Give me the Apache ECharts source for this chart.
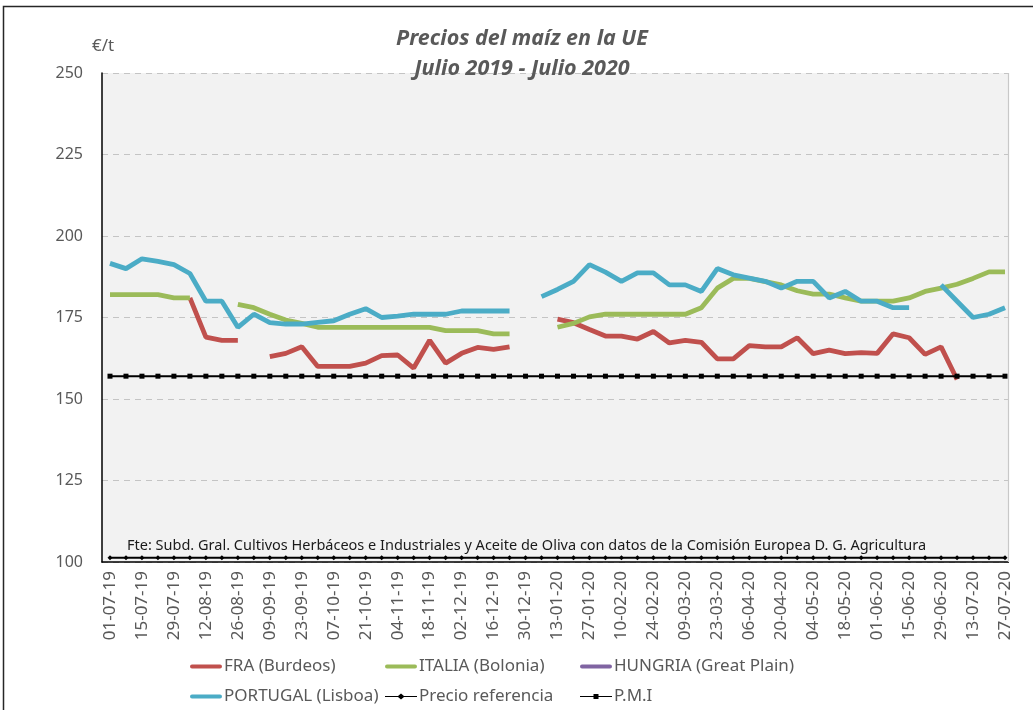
<!DOCTYPE html>
<html>
<head>
<meta charset="utf-8">
<script src="https://cdn.jsdelivr.net/npm/echarts@6/dist/echarts.min.js"></script>
<style>
  html, body { margin: 0; padding: 0; background: #fff; }
  #main { width: 1033px; height: 710px; }
</style>
</head>
<body>
<div id="main"></div>
<script>
// semanas (lunes) julio 2019 - julio 2020
var fechas = [
  '01-07-19','08-07-19','15-07-19','22-07-19','29-07-19','05-08-19','12-08-19','19-08-19','26-08-19','02-09-19',
  '09-09-19','16-09-19','23-09-19','30-09-19','07-10-19','14-10-19','21-10-19','28-10-19','04-11-19','11-11-19',
  '18-11-19','25-11-19','02-12-19','09-12-19','16-12-19','23-12-19','30-12-19','06-01-20','13-01-20','20-01-20',
  '27-01-20','03-02-20','10-02-20','17-02-20','24-02-20','02-03-20','09-03-20','16-03-20','23-03-20','30-03-20',
  '06-04-20','13-04-20','20-04-20','27-04-20','04-05-20','11-05-20','18-05-20','25-05-20','01-06-20','08-06-20',
  '15-06-20','22-06-20','29-06-20','06-07-20','13-07-20','20-07-20','27-07-20'
];

var fra = [
  null, null, null, null, null, 181, 169, 168, 168, null,
  163, 164, 166, 160, 160, 160, 161, 163.3, 163.5, 159.5,
  168, 161, 164, 165.8, 165.2, 166, null, null, 174.5, 173.4,
  171.3, 169.3, 169.3, 168.4, 170.7, 167.2, 168, 167.4, 162.3, 162.3,
  166.4, 166, 166, 168.8, 163.9, 165, 163.9, 164.2, 164, 170,
  168.8, 163.7, 166, 156, null, null, null
];

var italia = [
  182, 182, 182, 182, 181, 181, null, null, 179, 178,
  176, 174.2, 173.2, 172, 172, 172, 172, 172, 172, 172,
  172, 171, 171, 171, 170, 170, null, null, 172, 173.2,
  175.2, 176, 176, 176, 176, 176, 176, 178, 184, 187,
  187, 186, 185, 183.2, 182.2, 182.2, 181, 180, 180, 180,
  181, 183, 184, 185.2, 187, 189, 189
];

var hungria = [];

var portugal = [
  191.6, 190, 193, 192.2, 191.2, 188.5, 180, 180, 172, 176,
  173.4, 173, 173, 173.5, 174, 176, 177.7, 175, 175.4, 176,
  176, 176, 177, 177, 177, 177, null, 181.4, 183.6, 186.1,
  191.2, 188.9, 186.1, 188.7, 188.7, 185, 185, 183, 190, 188.1,
  187.1, 186.1, 184, 186.1, 186.1, 181, 183, 180, 180, 178,
  178, null, 185, 180, 175, 176, 178
];

var precioRef = [
  101.31, 101.31, 101.31, 101.31, 101.31, 101.31, 101.31, 101.31, 101.31, 101.31,
  101.31, 101.31, 101.31, 101.31, 101.31, 101.31, 101.31, 101.31, 101.31, 101.31,
  101.31, 101.31, 101.31, 101.31, 101.31, 101.31, 101.31, 101.31, 101.31, 101.31,
  101.31, 101.31, 101.31, 101.31, 101.31, 101.31, 101.31, 101.31, 101.31, 101.31,
  101.31, 101.31, 101.31, 101.31, 101.31, 101.31, 101.31, 101.31, 101.31, 101.31,
  101.31, 101.31, 101.31, 101.31, 101.31, 101.31, 101.31
];

var pmi = [
  157, 157, 157, 157, 157, 157, 157, 157, 157, 157,
  157, 157, 157, 157, 157, 157, 157, 157, 157, 157,
  157, 157, 157, 157, 157, 157, 157, 157, 157, 157,
  157, 157, 157, 157, 157, 157, 157, 157, 157, 157,
  157, 157, 157, 157, 157, 157, 157, 157, 157, 157,
  157, 157, 157, 157, 157, 157, 157
];

var gris = '#595959';
var fuente = 'Noto Sans';

// iconos de leyenda: barra de color, línea con rombo, línea con cuadrado
var iconoBarra = 'path://M2,0H30A2,2,0,0,1,30,4H2A2,2,0,0,1,2,0Z';
var iconoRombo = 'path://M0,2.4H13L16,0L19,2.4H32V3.6H19L16,6L13,3.6H0Z';
var iconoCuadro = 'path://M0,2.4H13.5V0.5H18.5V2.4H32V3.6H18.5V5.5H13.5V3.6H0Z';

var myChart = echarts.init(document.getElementById('main'));

function leyenda(nombre, x, y, icono, alto) {
  return {
    data: [nombre],
    left: x,
    top: y,
    padding: 0,
    icon: icono,
    itemWidth: 32,
    itemHeight: alto,
    selectedMode: false,
    textStyle: { color: gris, fontSize: 17, fontFamily: fuente, padding: [0, 0, 0, -3] }
  };
}

function linea(nombre, datos, color) {
  return {
    name: nombre,
    type: 'line',
    data: datos,
    symbol: 'none',
    connectNulls: false,
    color: color,
    lineStyle: { width: 4.8, color: color }
  };
}

var option = {
  animation: false,
  textStyle: { fontFamily: fuente },
  title: {
    text: 'Precios del maíz en la UE\nJulio 2019 - Julio 2020',
    left: 517,
    top: 19,
    textAlign: 'center',
    textStyle: {
      color: gris,
      fontSize: 21.5,
      fontWeight: 'bold',
      fontStyle: 'italic',
      lineHeight: 30,
      fontFamily: fuente
    }
  },
  legend: [
    leyenda('FRA (Burdeos)', 190, 658, iconoBarra, 4),
    leyenda('ITALIA (Bolonia)', 385, 658, iconoBarra, 4),
    leyenda('HUNGRIA (Great Plain)', 580, 658, iconoBarra, 4),
    leyenda('PORTUGAL (Lisboa)', 190, 688, iconoBarra, 4),
    leyenda('Precio referencia', 385, 688, iconoRombo, 6),
    leyenda('P.M.I', 580, 688, iconoCuadro, 6)
  ],
  grid: {
    left: 102,
    right: 20,
    top: 73,
    bottom: 148,
    show: true,
    backgroundColor: '#f2f2f2',
    borderWidth: 0
  },
  xAxis: {
    type: 'category',
    data: fechas,
    boundaryGap: true,
    axisLine: { lineStyle: { color: '#000', width: 1.5 } },
    axisTick: { interval: 1, length: 6, lineStyle: { color: '#000', width: 1.5 } },
    axisLabel: {
      interval: 1,
      rotate: 90,
      margin: 9,
      color: gris,
      fontSize: 17,
      fontFamily: fuente
    }
  },
  yAxis: {
    type: 'value',
    min: 100,
    max: 250,
    interval: 25,
    axisLine: { show: true, lineStyle: { color: '#000', width: 1.5 } },
    axisTick: { show: false },
    axisLabel: { color: gris, fontSize: 16, margin: 19, fontFamily: fuente },
    splitLine: { lineStyle: { color: '#c4c4c4', type: [6, 5], width: 1.2 } }
  },
  graphic: [
    // tapa el sobrante del fondo a la derecha del área de trazado
    { type: 'rect', z: 100, shape: { x: 1009, y: 60, width: 10, height: 505 }, style: { fill: '#fff' } },
    { type: 'line', z: 101, shape: { x1: 1008.5, y1: 73, x2: 1008.5, y2: 562 }, style: { stroke: '#c8c8c8', lineWidth: 1.2 } },
    // marco exterior
    { type: 'rect', z: 101, shape: { x: 3.5, y: 6.5, width: 1100, height: 800 }, style: { fill: 'none', stroke: '#262626', lineWidth: 1.5 } },
    { type: 'text', z: 101, left: 92, top: 38, style: { text: '€/t', fill: gris, fontSize: 17, fontFamily: fuente } },
    {
      type: 'text', z: 101, left: 127, top: 538,
      style: {
        text: 'Fte: Subd. Gral. Cultivos Herbáceos e Industriales y Aceite de Oliva con datos de la Comisión Europea D. G. Agricultura',
        fill: '#1a1a1a', fontSize: 14.5, fontFamily: fuente
      }
    }
  ],
  series: [
    linea('FRA (Burdeos)', fra, '#c0504d'),
    linea('ITALIA (Bolonia)', italia, '#9bbb59'),
    linea('HUNGRIA (Great Plain)', hungria, '#8064a2'),
    linea('PORTUGAL (Lisboa)', portugal, '#4bacc6'),
    {
      name: 'Precio referencia',
      type: 'line',
      data: precioRef,
      symbol: 'diamond',
      symbolSize: 5,
      showAllSymbol: true,
      color: '#000',
      itemStyle: { color: '#000' },
      lineStyle: { width: 2, color: '#000' }
    },
    {
      name: 'P.M.I',
      type: 'line',
      data: pmi,
      symbol: 'rect',
      symbolSize: 5,
      showAllSymbol: true,
      color: '#000',
      itemStyle: { color: '#000' },
      lineStyle: { width: 2, color: '#000' }
    }
  ]
};

myChart.setOption(option);
</script>
</body>
</html>
